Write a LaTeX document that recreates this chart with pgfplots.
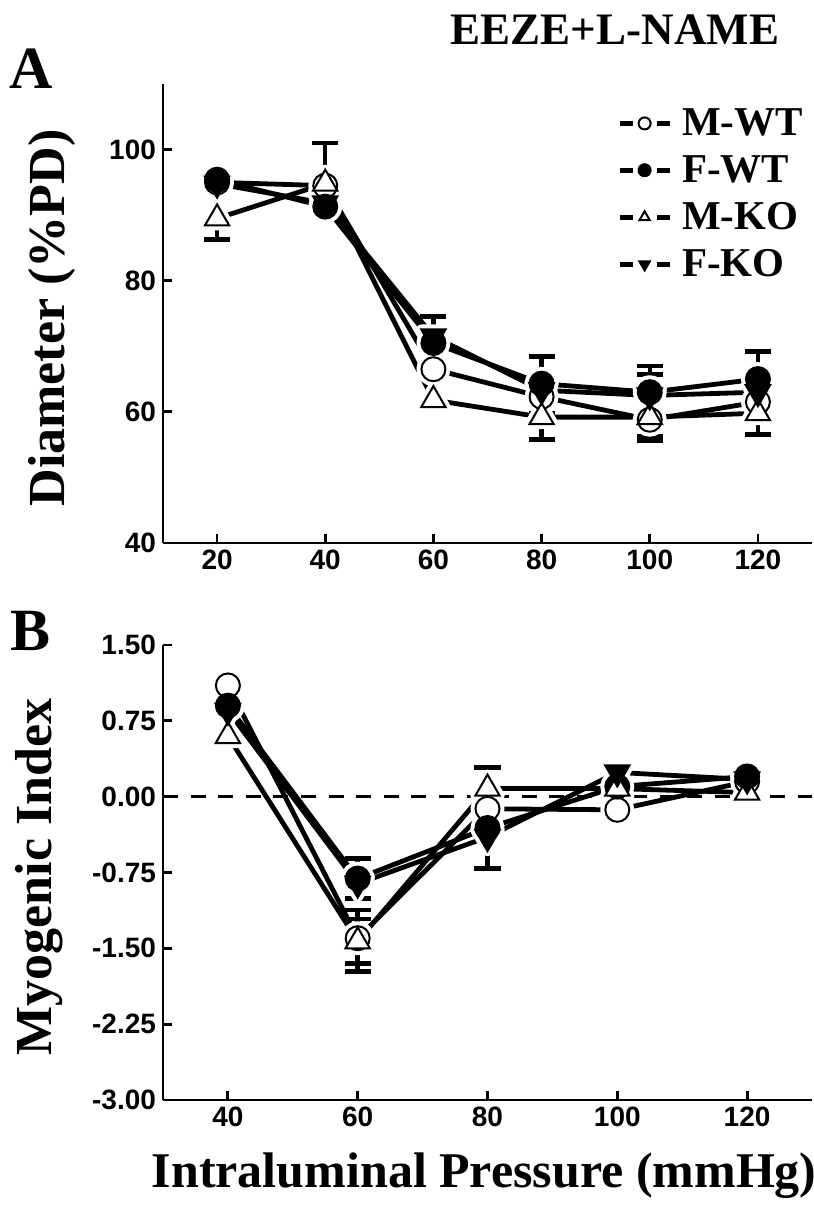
\documentclass[border=0pt]{standalone}
\usepackage{pgfplots}
\pgfplotsset{compat=1.18}
\usepackage{fontspec}
\setmainfont{Liberation Serif}
\newfontfamily\ticksf{Liberation Sans}
\begin{document}
\begin{tikzpicture}
\useasboundingbox (-81.5pt,-336.5pt) rectangle (325.5pt,271.5pt);
\pgfplotsset{
  myaxis/.style={
    scale only axis, width=324.5pt,
    axis x line*=bottom, axis y line*=left,
    axis line style={line width=1.4pt, black},
    tick align=inside, major tick length=4.5pt,
    every tick/.style={line width=1.4pt, black},
    tick label style={font=\ticksf\bfseries\fontsize{14}{14}\selectfont},
    /pgf/number format/assume math mode=true,
    clip=false,
    label style={font=\bfseries\fontsize{26}{26}\selectfont},
  },
  ln/.style={line width=2.4pt, black, mark=none, forget plot,
    error bars/.cd, y dir=both, y explicit,
    error bar style={line width=2.2pt, solid},
    error mark options={rotate=90, mark size=6.5pt, line width=2.4pt, black}},
  smwt/.style={mark=*, mark size=6pt, mark options={fill=white, draw=black, line width=1pt}},
  sfwt/.style={mark=*, mark size=6pt, mark options={fill=black, draw=black, line width=1pt}},
  smko/.style={mark=triangle*, mark size=7pt, mark options={fill=white, draw=black, line width=1pt}},
  sfko/.style={mark=triangle*, mark size=7pt, mark options={rotate=180, fill=black, draw=black, line width=1pt}},
  halo/.style={only marks, forget plot, mark options={draw=white, fill=white, line width=5pt, line join=round}},
  halofko/.style={only marks, forget plot, mark options={rotate=180, draw=white, fill=white, line width=5pt, line join=round}},
  mylegend/.style={
    legend style={draw=none, fill=none, at={(0.69,0.965)}, anchor=north west,
      font=\bfseries\fontsize{20.5}{20.5}\selectfont, row sep=4.5pt, column sep=3pt,
      nodes={inner sep=2pt}},
    legend cell align=left,
    legend image code/.code={
      \draw[line width=2.4pt, black] (0pt,0pt) -- (6.5pt,0pt);
      \draw[line width=2.4pt, black] (18.5pt,0pt) -- (25pt,0pt);
      \draw[##1, mark size=3pt] plot coordinates {(12.5pt,0pt)};
    },
  },
}
% ---------------- Panel A ----------------
\begin{axis}[myaxis, mylegend, at={(0,0)}, anchor=south west, height=229.5pt,
  xmin=10, xmax=130, ymin=40, ymax=110,
  xtick={20,40,60,80,100,120}, ytick={40,60,80,100},
  ylabel={Diameter (\%PD)},
  ylabel style={at={(axis description cs:-0.171,0.49)}, anchor=center}]
% lines and error bars
\addplot[ln] coordinates {(20,95.0) (40,94.5) (60,66.5) (80,62.3) -= (0,2.6) (100,58.8) -= (0,3.2) (120,61.5)};
\addplot[ln] coordinates {(20,95.4) (40,91.3) (60,70.5) (80,64.3) += (0,4.2) (100,63.0) += (0,4.0) (120,65.0) += (0,4.2)};
\addplot[ln] coordinates {(20,89.5) -= (0,3.2) (40,94.8) += (0,6.2) (60,61.8) (80,59.2) -= (0,3.4) (100,59.2) -= (0,2.9) (120,59.8) -= (0,3.3)};
\addplot[ln] coordinates {(20,94.8) (40,91.8) (60,71.5) += (0,3.0) (80,63.3) (100,62.5) += (0,3.2) (120,63.0)};
% halos
\addplot[smwt, halo] coordinates {(20,95.0) (40,94.5) (60,66.5) (80,62.3) (100,58.8) (120,61.5)};
\addplot[sfwt, halo] coordinates {(20,95.4) (40,91.3) (60,70.5) (80,64.3) (100,63.0) (120,65.0)};
\addplot[smko, halo] coordinates {(20,89.5) (40,94.8) (60,61.8) (80,59.2) (100,59.2) (120,59.8)};
\addplot[sfko, halofko] coordinates {(20,94.8) (40,91.8) (60,71.5) (80,63.3) (100,62.5) (120,63.0)};
% markers
\addplot[smwt, only marks] coordinates {(20,95.0) (40,94.5) (60,66.5) (80,62.3) (100,58.8) (120,61.5)};
\addlegendentry{M-WT}
\addplot[sfwt, only marks] coordinates {(20,95.4) (40,91.3) (60,70.5) (80,64.3) (100,63.0) (120,65.0)};
\addlegendentry{F-WT}
\addplot[smko, only marks] coordinates {(20,89.5) (40,94.8) (60,61.8) (80,59.2) (100,59.2) (120,59.8)};
\addlegendentry{M-KO}
\addplot[sfko, only marks] coordinates {(20,94.8) (40,91.8) (60,71.5) (80,63.3) (100,62.5) (120,63.0)};
\addlegendentry{F-KO}
\end{axis}
% ---------------- Panel B ----------------
\begin{axis}[myaxis, at={(0,-51pt)}, anchor=north west, height=227.5pt,
  xmin=30, xmax=130, ymin=-3, ymax=1.5,
  xtick={40,60,80,100,120}, ytick={-3,-2.25,-1.5,-0.75,0,0.75,1.5},
  yticklabel style={/pgf/number format/.cd, fixed, fixed zerofill, precision=2},
  ylabel={Myogenic Index},
  ylabel style={at={(axis description cs:-0.19,0.49)}, anchor=center},
  xlabel={Intraluminal Pressure (mmHg)},
  xlabel style={at={(axis description cs:0.495,-0.167)}, anchor=center, font=\bfseries\fontsize{25}{25}\selectfont}]
\addplot[forget plot, black, line width=1.2pt, dash pattern=on 7.5pt off 6.3pt] coordinates {(30,0) (130,0)};
% lines and error bars
\addplot[ln] coordinates {(40,1.10) (60,-1.40) += (0,0.28) -= (0,0.25) (80,-0.12) (100,-0.13) (120,0.15)};
\addplot[ln] coordinates {(40,0.90) (60,-0.81) += (0,0.20) (80,-0.31) (100,0.10) (120,0.20)};
\addplot[ln] coordinates {(40,0.60) (60,-1.43) += (0,0.22) -= (0,0.30) (80,0.08) += (0,0.21) (100,0.08) (120,0.04)};
\addplot[ln] coordinates {(40,0.85) (60,-0.86) -= (0,0.15) (80,-0.40) -= (0,0.31) (100,0.24) (120,0.17)};
% halos
\addplot[smwt, halo] coordinates {(40,1.10) (60,-1.40) (80,-0.12) (100,-0.13) (120,0.15)};
\addplot[sfwt, halo] coordinates {(40,0.90) (60,-0.81) (80,-0.31) (100,0.10) (120,0.20)};
\addplot[smko, halo] coordinates {(40,0.60) (60,-1.43) (80,0.08) (100,0.08) (120,0.04)};
\addplot[sfko, halofko] coordinates {(40,0.85) (60,-0.86) (80,-0.40) (100,0.24) (120,0.17)};
% markers
\addplot[smwt, only marks] coordinates {(40,1.10) (60,-1.40) (80,-0.12) (100,-0.13) (120,0.15)};
\addplot[sfwt, only marks] coordinates {(40,0.90) (60,-0.81) (80,-0.31) (100,0.10) (120,0.20)};
\addplot[smko, only marks] coordinates {(40,0.60) (60,-1.43) (80,0.08) (100,0.08) (120,0.04)};
\addplot[sfko, only marks] coordinates {(40,0.85) (60,-0.86) (80,-0.40) (100,0.24) (120,0.17)};
\end{axis}
\node[font=\bfseries\fontsize{22.5}{22.5}\selectfont] at (226pt,256.5pt) {EEZE+L-NAME};
\node[font=\bfseries\fontsize{30}{30}\selectfont] at (-66pt,237pt) {A};
\node[font=\bfseries\fontsize{30}{30}\selectfont] at (-66pt,-44pt) {B};
\end{tikzpicture}
\end{document}
